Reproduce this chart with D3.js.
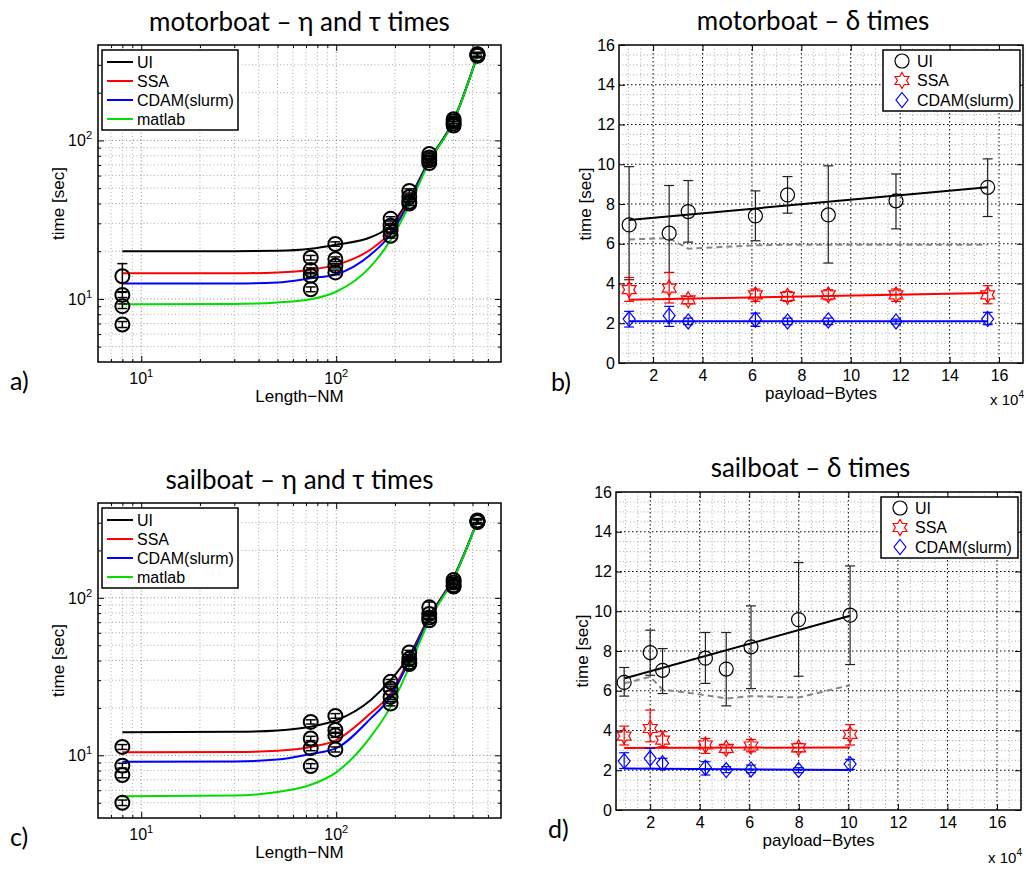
<!DOCTYPE html>
<html>
<head>
<meta charset="utf-8">
<script src="https://cdn.jsdelivr.net/npm/d3@7"></script>
<style>
body { margin: 0; background: #fff; }
text { font-family: "Liberation Sans", Arial, sans-serif; fill: #000; }
.ttl { font-family: Lato, "Open Sans", sans-serif; }
</style>
</head>
<body>
<div id="chart"></div>
<script>
// ---- eta/tau panels (log-log) ----
var lenX = [8, 74, 99, 190, 237, 300, 400, 530];
var lenDomain = [6, 700];
var timeDomain = [4, 400];
var lenMajor = [10, 100];
var lenMinor = [6, 7, 8, 9, 20, 30, 40, 50, 60, 70, 80, 90, 200, 300, 400, 500, 600, 700];
var timeMajor = [10, 100];
var timeMinor = [5, 6, 7, 8, 9, 20, 30, 40, 50, 60, 70, 80, 90, 200, 300];

var motorPts = [[13.9, 10.6, 9.0, 6.9], [18.2, 15.2, 14.0, 11.5], [22.2, 17.8, 16.2, 14.7], [32, 29, 27, 25],
                [48, 44, 41, 40], [82, 78, 75, 72], [136, 132, 128, 124], [350, 348, 345, 342]];
var motorErr = [[2.8, 0.4, 0.3, 0.3], [0.6, 0.5, 0.4, 0.4], [0.7, 0.6, 0.5, 0.5], [1.0, 0.9, 0.8, 0.8],
                [1.5, 1.3, 1.2, 1.2], [2.5, 2.3, 2.2, 2.2], [4, 4, 4, 4], [10, 10, 10, 10]];
var sailPts = [[11.3, 8.6, 7.5, 5.0], [16.3, 12.8, 11.1, 8.55], [17.8, 14.5, 13.4, 10.9], [29.3, 26.6, 23.5, 21.3],
               [45, 41, 39, 38], [87, 79, 75, 72], [130, 125, 120, 118], [310, 307, 305, 303]];
var sailErr = [[0.4, 0.3, 0.3, 0.2], [0.5, 0.4, 0.4, 0.3], [0.6, 0.5, 0.4, 0.4], [1.0, 0.9, 0.8, 0.7],
               [1.4, 1.3, 1.2, 1.2], [7, 2.5, 2.3, 2.2], [4, 4, 4, 4], [9, 9, 9, 9]];

var curveX = [8, 30, 50, 74, 100, 150, 190, 237, 300, 400, 530];
var motorUI = [20.0, 20.0, 20.1, 20.7, 22, 24.5, 29, 43, 75, 134, 345];
var motorSSA = [14.5, 14.5, 14.7, 15.3, 16.4, 20.5, 26.5, 42, 74, 133, 345];
var motorCDAM = [12.5, 12.5, 12.7, 13.5, 14.3, 19, 25.5, 41, 74, 133, 345];
var motorMatlab = [9.25, 9.3, 9.5, 9.95, 11.1, 16, 23.5, 39, 73, 132, 345];
var sailUI = [14.0, 14.1, 14.4, 15.2, 16.7, 22.4, 30, 43, 76, 135, 308];
var sailSSA = [10.45, 10.5, 10.7, 11.3, 12.5, 18.5, 24.7, 41, 75, 134, 308];
var sailCDAM = [9.1, 9.15, 9.4, 10.2, 11.1, 17.1, 23.5, 40, 74, 133, 308];
var sailMatlab = [5.5, 5.55, 5.85, 6.5, 7.8, 13.1, 20.3, 36.4, 72, 132, 308];

var fitNames = ["UI", "SSA", "CDAM(slurm)", "matlab"];
var fitColors = ["#000", "#f00", "#00f", "#0d0"];

// ---- delta panels (linear) ----
var payDomain = [0.62, 16.97];
var payTicks = [2, 4, 6, 8, 10, 12, 14, 16];
var secTicks = [0, 2, 4, 6, 8, 10, 12, 14, 16];
var payMinor = d3.range(1, 17.01, 0.5);
var secMinor = d3.range(0.5, 16, 0.5);

var motorPay = [1.03, 2.65, 3.42, 6.14, 7.44, 9.09, 11.83, 15.54];
var motorDUI = [6.95, 6.53, 7.62, 7.4, 8.46, 7.45, 8.16, 8.84];
var motorDUILo = [4.19, 4.55, 6.08, 6.15, 7.54, 5.03, 6.75, 7.37];
var motorDUIHi = [9.88, 8.93, 9.18, 8.66, 9.38, 9.92, 9.51, 10.27];
var motorDUIFit = [7.2, 8.84];
var motorDDash = [6.22, 6.28, 5.75, 5.92, 5.95, 5.95, 5.95, 5.95];
var motorDSSA = [3.69, 3.77, 3.18, 3.43, 3.35, 3.43, 3.43, 3.43];
var motorDSSALo = [3.1, 3.02, 2.98, 3.1, 3.1, 3.18, 3.1, 2.98];
var motorDSSAHi = [4.3, 4.56, 3.35, 3.72, 3.6, 3.69, 3.72, 3.89];
var motorDSSAFit = [3.18, 3.52];
var motorDCDAM = [2.21, 2.38, 2.09, 2.18, 2.09, 2.14, 2.09, 2.21];
var motorDCDAMLo = [1.81, 1.84, 1.93, 1.84, 1.93, 1.93, 1.96, 1.93];
var motorDCDAMHi = [2.6, 2.85, 2.26, 2.51, 2.26, 2.26, 2.21, 2.55];
var motorDCDAMFit = [2.1, 2.1];

var sailPay = [0.95, 2.0, 2.5, 4.23, 5.07, 6.07, 7.99, 10.07];
var sailDUI = [6.42, 7.92, 7.03, 7.64, 7.09, 8.21, 9.58, 9.8];
var sailDUILo = [5.73, 6.78, 5.86, 6.37, 5.24, 6.11, 6.73, 7.32];
var sailDUIHi = [7.17, 9.05, 8.12, 8.93, 8.93, 10.27, 12.45, 12.28];
var sailDUIFit = [6.62, 9.77];
var sailDDash = [6.37, 6.7, 6.06, 5.78, 5.61, 5.73, 5.66, 6.28];
var sailDSSA = [3.72, 4.1, 3.52, 3.27, 3.1, 3.22, 3.13, 3.8];
var sailDSSALo = [3.27, 3.43, 3.18, 2.85, 2.88, 2.93, 2.93, 3.27];
var sailDSSAHi = [4.22, 5.03, 3.94, 3.6, 3.27, 3.55, 3.35, 4.3];
var sailDSSAFit = [3.12, 3.15];
var sailDCDAM = [2.46, 2.6, 2.35, 2.13, 2.01, 2.04, 2.01, 2.31];
var sailDCDAMLo = [2.09, 2.09, 2.04, 1.76, 1.88, 1.88, 1.88, 2.04];
var sailDCDAMHi = [2.88, 3.1, 2.6, 2.43, 2.18, 2.26, 2.13, 2.55];
var sailDCDAMFit = [2.09, 2.01];

var deltaNames = ["UI", "SSA", "CDAM(slurm)"];

var width = 1026, height = 873;
var svg = d3.select("#chart").append("svg")
    .attr("xmlns", "http://www.w3.org/2000/svg")
    .attr("width", width)
    .attr("height", height);
svg.append("rect").attr("width", width).attr("height", height).attr("fill", "#fff");

function starPath(r) {
    var p = [];
    for (var i = 0; i < 12; i++) {
        var a = -Math.PI / 2 + i * Math.PI / 6, rr = i % 2 ? r * 0.577 : r;
        p.push([(rr * Math.cos(a)).toFixed(2), (rr * Math.sin(a)).toFixed(2)]);
    }
    return "M" + p.join("L") + "Z";
}
var diamondPath = "M0,-7.5L6,0L0,7.5L-6,0Z";

function gridLines(g, x, y, f, xs, ys, color, dash) {
    g.append("g").selectAll("line").data(xs).join("line")
        .attr("x1", d => x(d)).attr("x2", d => x(d))
        .attr("y1", f.t).attr("y2", f.b)
        .attr("stroke", color).attr("stroke-width", 1).attr("stroke-dasharray", dash);
    g.append("g").selectAll("line").data(ys).join("line")
        .attr("y1", d => y(d)).attr("y2", d => y(d))
        .attr("x1", f.l).attr("x2", f.r)
        .attr("stroke", color).attr("stroke-width", 1).attr("stroke-dasharray", dash);
}

function ticks(g, x, y, f, xv, yv, len) {
    g.append("g").attr("transform", "translate(0," + f.b + ")")
        .call(d3.axisBottom(x).tickValues(xv).tickSize(-len).tickFormat(""));
    g.append("g").attr("transform", "translate(0," + f.t + ")")
        .call(d3.axisTop(x).tickValues(xv).tickSize(-len).tickFormat(""));
    g.append("g").attr("transform", "translate(" + f.l + ",0)")
        .call(d3.axisLeft(y).tickValues(yv).tickSize(-len).tickFormat(""));
    g.append("g").attr("transform", "translate(" + f.r + ",0)")
        .call(d3.axisRight(y).tickValues(yv).tickSize(-len).tickFormat(""));
    g.selectAll(".domain").remove();
    g.selectAll(".tick line").attr("stroke", "#000");
}

function powLabel(sel, exp) {
    sel.append("tspan").text("10");
    sel.append("tspan").attr("dy", -7).attr("font-size", 11).text(exp);
}

function logPanel(f, pts, errs, curves, title, tag) {
    var x = d3.scaleLog().domain(lenDomain).range([f.l, f.r]);
    var y = d3.scaleLog().domain(timeDomain).range([f.b, f.t]);
    var g = svg.append("g");

    gridLines(g, x, y, f, lenMinor, timeMinor, "#aaa", "1,2.5");
    gridLines(g, x, y, f, lenMajor, timeMajor, "#888", "1,2.5");

    var line = d3.line().x(d => x(d[0])).y(d => y(d[1])).curve(d3.curveMonotoneX);
    curves.forEach(function (c, i) {
        g.append("path").attr("d", line(curveX.map((v, j) => [v, c[j]])))
            .attr("fill", "none").attr("stroke", fitColors[i]).attr("stroke-width", 2);
    });

    var flat = [];
    pts.forEach(function (row, i) {
        row.forEach(function (v, k) { flat.push({x: lenX[i], v: v, e: errs[i][k]}); });
    });
    var eb = g.append("g").attr("stroke", "#000").attr("stroke-width", 1.5);
    flat.forEach(function (p) {
        var cx = x(p.x), y1 = y(p.v + p.e), y0 = y(p.v - p.e);
        eb.append("line").attr("x1", cx).attr("x2", cx).attr("y1", y0).attr("y2", y1);
        eb.append("line").attr("x1", cx - 5).attr("x2", cx + 5).attr("y1", y0).attr("y2", y0);
        eb.append("line").attr("x1", cx - 5).attr("x2", cx + 5).attr("y1", y1).attr("y2", y1);
    });
    g.append("g").selectAll("circle").data(flat).join("circle")
        .attr("cx", d => x(d.x)).attr("cy", d => y(d.v)).attr("r", 7)
        .attr("fill", "none").attr("stroke", "#000").attr("stroke-width", 2);

    g.append("rect").attr("x", f.l).attr("y", f.t).attr("width", f.r - f.l).attr("height", f.b - f.t)
        .attr("fill", "none").attr("stroke", "#000").attr("stroke-width", 1.5);
    ticks(g, x, y, f, lenMinor.filter(d => d > 6 && d < 700), timeMinor, 3);
    ticks(g, x, y, f, lenMajor, timeMajor, 6);

    lenMajor.forEach(function (v, i) {
        g.append("text").attr("x", x(v)).attr("y", f.b + 22).attr("text-anchor", "middle")
            .attr("font-size", 16).call(powLabel, i + 1);
    });
    timeMajor.forEach(function (v, i) {
        g.append("text").attr("x", f.l - 6).attr("y", y(v) + 6).attr("text-anchor", "end")
            .attr("font-size", 16).call(powLabel, i + 1);
    });
    g.append("text").attr("x", (f.l + f.r) / 2).attr("y", f.b + 40).attr("text-anchor", "middle")
        .attr("font-size", 17).text("Length\u2212NM");
    g.append("text").attr("transform", "translate(" + (f.l - 34) + "," + ((f.t + f.b) / 2) + ") rotate(-90)")
        .attr("text-anchor", "middle").attr("font-size", 17).text("time [sec]");
    g.append("text").attr("class", "ttl").attr("x", (f.l + f.r) / 2).attr("y", f.t - 14)
        .attr("text-anchor", "middle").attr("font-size", 26).text(title);
    g.append("text").attr("class", "ttl").attr("x", 10).attr("y", f.b + 28)
        .attr("font-size", 25).text(tag);

    // legend
    var lg = g.append("g").attr("transform", "translate(" + (f.l + 4) + "," + (f.t + 5) + ")");
    lg.append("rect").attr("width", 136).attr("height", 80).attr("fill", "#fff")
        .attr("stroke", "#000").attr("stroke-width", 1.5);
    fitNames.forEach(function (n, i) {
        var ly = 12 + i * 19;
        lg.append("line").attr("x1", 5).attr("x2", 31).attr("y1", ly).attr("y2", ly)
            .attr("stroke", fitColors[i]).attr("stroke-width", 2);
        lg.append("text").attr("x", 35).attr("y", ly).attr("dy", "0.36em").attr("font-size", 16).text(n);
    });
}

function deltaPanel(f, d, title, tag, expY) {
    var x = d3.scaleLinear().domain(payDomain).range([f.l, f.r]);
    var y = d3.scaleLinear().domain([0, 16]).range([f.b, f.t]);
    var g = svg.append("g");

    gridLines(g, x, y, f, payMinor.filter(v => payTicks.indexOf(v) < 0), secMinor.filter(v => secTicks.indexOf(v) < 0), "#aaa", "1,2.5");
    gridLines(g, x, y, f, payTicks, secTicks.slice(1, 8), "#000", "1.5,2.5");

    var line = d3.line().x(p => x(p[0])).y(p => y(p[1]));
    var n = d.xs.length - 1;
    g.append("path").attr("d", line(d.xs.map((v, i) => [v, d.dash[i]])))
        .attr("fill", "none").attr("stroke", "#888").attr("stroke-width", 2).attr("stroke-dasharray", "6,4");

    var series = [
        {v: d.ui, lo: d.uiLo, hi: d.uiHi, fit: d.uiFit, c: "#000"},
        {v: d.ssa, lo: d.ssaLo, hi: d.ssaHi, fit: d.ssaFit, c: "#f00"},
        {v: d.cdam, lo: d.cdamLo, hi: d.cdamHi, fit: d.cdamFit, c: "#00f"}
    ];
    series.forEach(function (s, k) {
        g.append("path").attr("d", line([[d.xs[0], s.fit[0]], [d.xs[n], s.fit[1]]]))
            .attr("fill", "none").attr("stroke", s.c).attr("stroke-width", 2);
        var eb = g.append("g").attr("stroke", k === 0 ? "#222" : s.c).attr("stroke-width", 1.2);
        d.xs.forEach(function (xv, i) {
            var cx = x(xv), y0 = y(s.lo[i]), y1 = y(s.hi[i]);
            eb.append("line").attr("x1", cx).attr("x2", cx).attr("y1", y0).attr("y2", y1);
            eb.append("line").attr("x1", cx - 5).attr("x2", cx + 5).attr("y1", y0).attr("y2", y0);
            eb.append("line").attr("x1", cx - 5).attr("x2", cx + 5).attr("y1", y1).attr("y2", y1);
        });
        var mk = g.append("g").selectAll("path").data(d.xs).join("path")
            .attr("transform", (xv, i) => "translate(" + x(xv) + "," + y(s.v[i]) + ")")
            .attr("fill", "none").attr("stroke", s.c).attr("stroke-width", 1.2);
        if (k === 0) mk.attr("d", d3.symbol(d3.symbolCircle, 154));
        else if (k === 1) mk.attr("d", starPath(8));
        else mk.attr("d", diamondPath);
    });

    g.append("rect").attr("x", f.l).attr("y", f.t).attr("width", f.r - f.l).attr("height", f.b - f.t)
        .attr("fill", "none").attr("stroke", "#000").attr("stroke-width", 1.5);
    ticks(g, x, y, f, payTicks, secTicks, 6);

    g.append("g").attr("transform", "translate(0," + f.b + ")")
        .call(d3.axisBottom(x).tickValues(payTicks).tickSize(0).tickPadding(7).tickFormat(d3.format("d")))
        .call(a => a.select(".domain").remove())
        .selectAll("text").attr("font-size", 16).attr("font-family", "Liberation Sans, Arial, sans-serif");
    g.append("g").attr("transform", "translate(" + f.l + ",0)")
        .call(d3.axisLeft(y).tickValues(secTicks).tickSize(0).tickPadding(4).tickFormat(d3.format("d")))
        .call(a => a.select(".domain").remove())
        .selectAll("text").attr("font-size", 16).attr("font-family", "Liberation Sans, Arial, sans-serif");

    g.append("text").attr("x", (f.l + f.r) / 2).attr("y", f.b + 36).attr("text-anchor", "middle")
        .attr("font-size", 17).text("payload\u2212Bytes");
    g.append("text").attr("x", f.r + 1).attr("y", f.b + expY).attr("text-anchor", "end")
        .attr("font-size", 15).call(function (t) {
            t.append("tspan").text("x 10");
            t.append("tspan").attr("dy", -7).attr("font-size", 10).text("4");
        });
    g.append("text").attr("transform", "translate(" + (f.l - 28) + "," + ((f.t + f.b) / 2) + ") rotate(-90)")
        .attr("text-anchor", "middle").attr("font-size", 17).text("time [sec]");
    g.append("text").attr("class", "ttl").attr("x", (f.l + f.r) / 2 - 8).attr("y", f.t - 15)
        .attr("text-anchor", "middle").attr("font-size", 26).text(title);
    g.append("text").attr("class", "ttl").attr("x", f.l - 68).attr("y", f.b + 28)
        .attr("font-size", 25).text(tag);

    var lg = g.append("g").attr("transform", "translate(" + (f.r - 140) + "," + (f.t + 5) + ")");
    lg.append("rect").attr("width", 137).attr("height", 61).attr("fill", "#fff")
        .attr("stroke", "#000").attr("stroke-width", 1.5);
    var syms = [d3.symbol(d3.symbolCircle, 154)(), starPath(8), diamondPath];
    deltaNames.forEach(function (nm, i) {
        var ly = 11 + i * 19.5;
        lg.append("path").attr("d", syms[i]).attr("transform", "translate(19," + ly + ")")
            .attr("fill", "none").attr("stroke", series[i].c).attr("stroke-width", 1.2);
        lg.append("text").attr("x", 34).attr("y", ly).attr("dy", "0.36em").attr("font-size", 16).text(nm);
    });
}

logPanel({l: 98, t: 45, r: 501, b: 362}, motorPts, motorErr,
    [motorUI, motorSSA, motorCDAM, motorMatlab], "motorboat \u2013  \u03b7 and \u03c4 times", "a)");
logPanel({l: 98, t: 503, r: 501, b: 818}, sailPts, sailErr,
    [sailUI, sailSSA, sailCDAM, sailMatlab], "sailboat \u2013  \u03b7 and \u03c4 times", "c)");

deltaPanel({l: 619, t: 45, r: 1023, b: 363}, {
    xs: motorPay, dash: motorDDash,
    ui: motorDUI, uiLo: motorDUILo, uiHi: motorDUIHi, uiFit: motorDUIFit,
    ssa: motorDSSA, ssaLo: motorDSSALo, ssaHi: motorDSSAHi, ssaFit: motorDSSAFit,
    cdam: motorDCDAM, cdamLo: motorDCDAMLo, cdamHi: motorDCDAMHi, cdamFit: motorDCDAMFit
}, "motorboat \u2013 \u03b4 times", "b)", 42);
deltaPanel({l: 616, t: 492, r: 1021, b: 810}, {
    xs: sailPay, dash: sailDDash,
    ui: sailDUI, uiLo: sailDUILo, uiHi: sailDUIHi, uiFit: sailDUIFit,
    ssa: sailDSSA, ssaLo: sailDSSALo, ssaHi: sailDSSAHi, ssaFit: sailDSSAFit,
    cdam: sailDCDAM, cdamLo: sailDCDAMLo, cdamHi: sailDCDAMHi, cdamFit: sailDCDAMFit
}, "sailboat \u2013 \u03b4 times", "d)", 53);
</script>
</body>
</html>
